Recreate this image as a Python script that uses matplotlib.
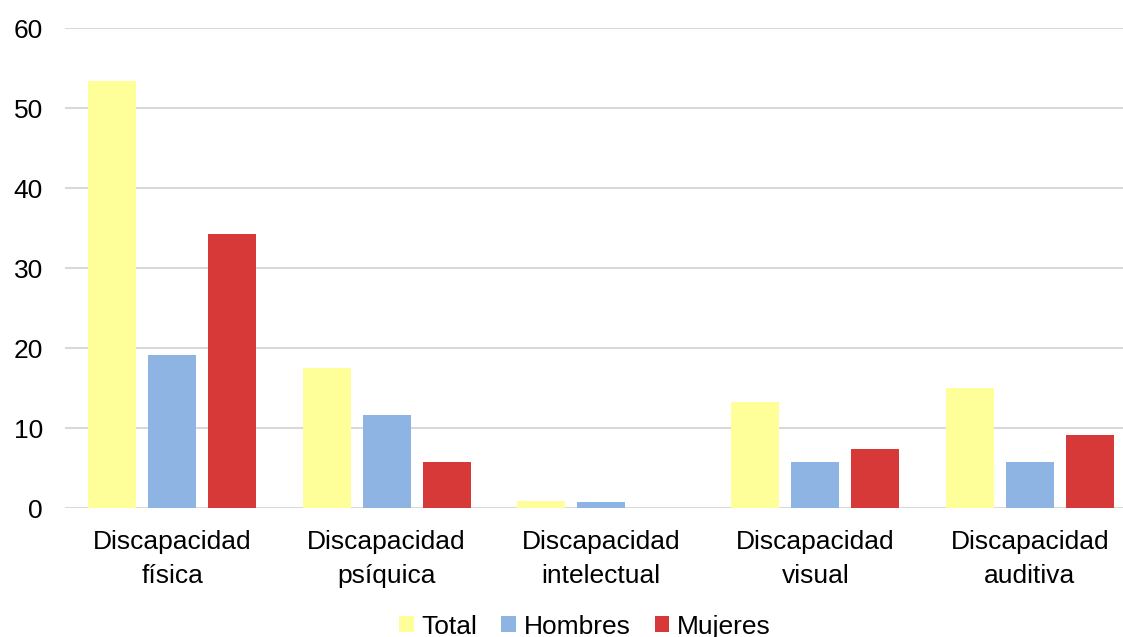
import matplotlib
matplotlib.use("Agg")
import matplotlib.pyplot as plt
import numpy as np

plt.rcParams['font.family'] = ['Liberation Sans', 'DejaVu Sans']

categories = ["Discapacidad\nfísica", "Discapacidad\npsíquica", "Discapacidad\nintelectual",
              "Discapacidad\nvisual", "Discapacidad\nauditiva"]
series_names = ["Total", "Hombres", "Mujeres"]
total = [53.4, 17.5, 0.9, 13.3, 15.0]
hombres = [19.1, 11.6, 0.7, 5.8, 5.8]
mujeres = [34.2, 5.7, 0.0, 7.4, 9.1]
colors = ["#FFFF99", "#8EB4E3", "#D73838"]
yticks = [0, 10, 20, 30, 40, 50, 60]

W, H = 1123, 637
fig = plt.figure(figsize=(W / 100, H / 100), dpi=100)
ax = fig.add_axes([65 / W, (H - 508) / H, 1072 / W, (508 - 28) / H])

x = np.arange(len(categories))
width = 0.224
step = 0.28
for i, (vals, name, c) in enumerate(zip([total, hombres, mujeres], series_names, colors)):
    ax.bar(x + (i - 1) * step, vals, width, color=c, label=name, zorder=3)

ax.set_xlim(-0.5, len(categories) - 0.5)
ax.set_ylim(0, 60)
ax.set_yticks(yticks)
ax.set_xticks(x)
ax.set_xticklabels(categories, fontsize=19, linespacing=1.5)
ax.tick_params(axis='y', labelsize=19, length=0, pad=16)
ax.tick_params(axis='x', length=0, pad=16)
ax.grid(axis='y', color='#D9D9D9', linewidth=1.5, zorder=0)
for s in ax.spines.values():
    s.set_visible(False)

fig.legend(loc='lower center', bbox_to_anchor=(0.521, -0.04), ncol=3, frameon=False,
           fontsize=19, handlelength=0.55, handleheight=0.55, handletextpad=0.3,
           columnspacing=0.9)

fig.savefig("out.png", dpi=100)
